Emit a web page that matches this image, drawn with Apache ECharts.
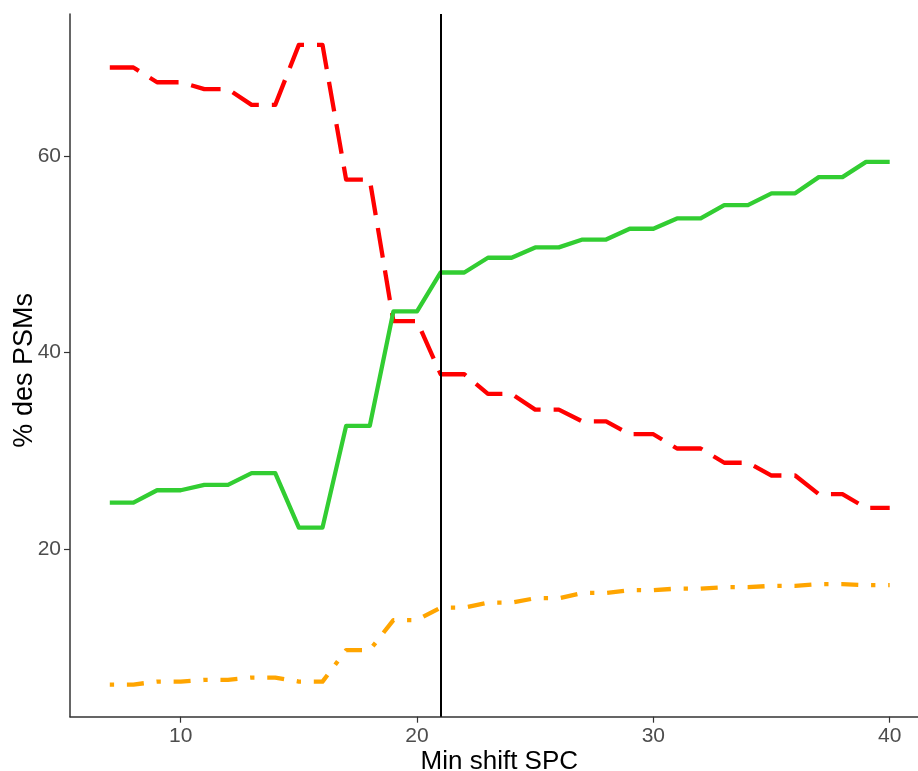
<!DOCTYPE html>
<html>
<head>
<meta charset="utf-8">
<script src="https://cdn.jsdelivr.net/npm/echarts@6/dist/echarts.min.js"></script>
<style>
html,body{margin:0;padding:0;background:#fff;overflow:hidden;}
#chart{width:918px;height:771px;}
</style>
</head>
<body>
<div id="chart"></div>
<script>
const minShift = [7,8,9,10,11,12,13,14,15,16,17,18,19,20,21,22,23,24,25,26,27,28,29,30,31,32,33,34,35,36,37,38,39,40];
const redValues = [69.0,69.0,67.5,67.5,66.8,66.8,65.2,65.2,71.3,71.3,57.6,57.6,43.2,43.2,37.8,37.8,35.8,35.8,34.2,34.2,33.0,33.0,31.7,31.7,30.25,30.25,28.8,28.8,27.5,27.5,25.6,25.6,24.2,24.2];
const greenValues = [24.75,24.75,26.0,26.0,26.55,26.55,27.75,27.75,22.2,22.2,32.55,32.55,44.2,44.2,48.15,48.15,49.65,49.65,50.7,50.7,51.5,51.5,52.6,52.6,53.65,53.65,55.0,55.0,56.2,56.2,57.85,57.85,59.4,59.4];
const orangeValues = [6.24,6.24,6.54,6.54,6.71,6.71,6.95,6.95,6.54,6.54,9.74,9.74,12.8,12.8,14.07,14.07,14.58,14.58,15.02,15.02,15.56,15.56,15.84,15.84,16.0,16.0,16.14,16.14,16.28,16.28,16.45,16.45,16.35,16.35];
const xTicks = [10,20,30,40];
const yTicks = [20,40,60];
const cutoff = 21;

const pairs = vals => minShift.map((x,i)=>[x, vals[i]]);
const chart = echarts.init(document.getElementById('chart'), null, {renderer:'canvas'});
const FONT = 'Liberation Sans, Arial, sans-serif';
chart.setOption({
  animation:false,
  backgroundColor:'#ffffff',
  grid:{left:70, right:-10.6, top:14, bottom:54.3, containLabel:false, outerBoundsMode:'none'},
  xAxis:{
    type:'value', min:5.316, max:41.646,
    name:'Min shift SPC', nameLocation:'middle', nameGap:32, nameMoveOverlap:false,
    nameTextStyle:{color:'#000', fontSize:26, fontFamily:FONT},
    axisLine:{show:true, onZero:false, lineStyle:{color:'#333', width:1.5}},
    axisTick:{show:true, length:6, lineStyle:{color:'#333', width:1.2}, customValues:xTicks},
    axisLabel:{color:'#4D4D4D', fontSize:21, fontFamily:FONT, margin:9, customValues:xTicks},
    splitLine:{show:false}
  },
  yAxis:{
    type:'value', min:2.97, max:74.44,
    name:'% des PSMs', nameLocation:'middle', nameGap:31.5, nameMoveOverlap:false,
    nameTextStyle:{color:'#000', fontSize:27, fontFamily:FONT, padding:[0,10,0,0]},
    axisLine:{show:true, onZero:false, lineStyle:{color:'#333', width:1.5}},
    axisTick:{show:true, length:6, lineStyle:{color:'#333', width:1.2}, customValues:yTicks},
    axisLabel:{color:'#4D4D4D', fontSize:21, fontFamily:FONT, margin:9, customValues:yTicks},
    splitLine:{show:false}
  },
  series:[
    {type:'line', data:pairs(redValues), symbol:'none', silent:true,
     lineStyle:{color:'#FF0000', width:4.3, type:[30,13], cap:'butt', join:'round'}},
    {type:'line', data:pairs(greenValues), symbol:'none', silent:true,
     lineStyle:{color:'#32CD32', width:4.3, type:'solid', cap:'butt', join:'round'}},
    {type:'line', data:pairs(orangeValues), symbol:'none', silent:true,
     lineStyle:{color:'#FFA500', width:4.3, type:[4.3,12.8,17,12.8], cap:'butt', join:'round'},
     markLine:{silent:true, symbol:'none', label:{show:false},
       lineStyle:{color:'#000', width:2, type:'solid'},
       data:[{xAxis:cutoff}]}}
  ]
});
</script>
</body>
</html>
